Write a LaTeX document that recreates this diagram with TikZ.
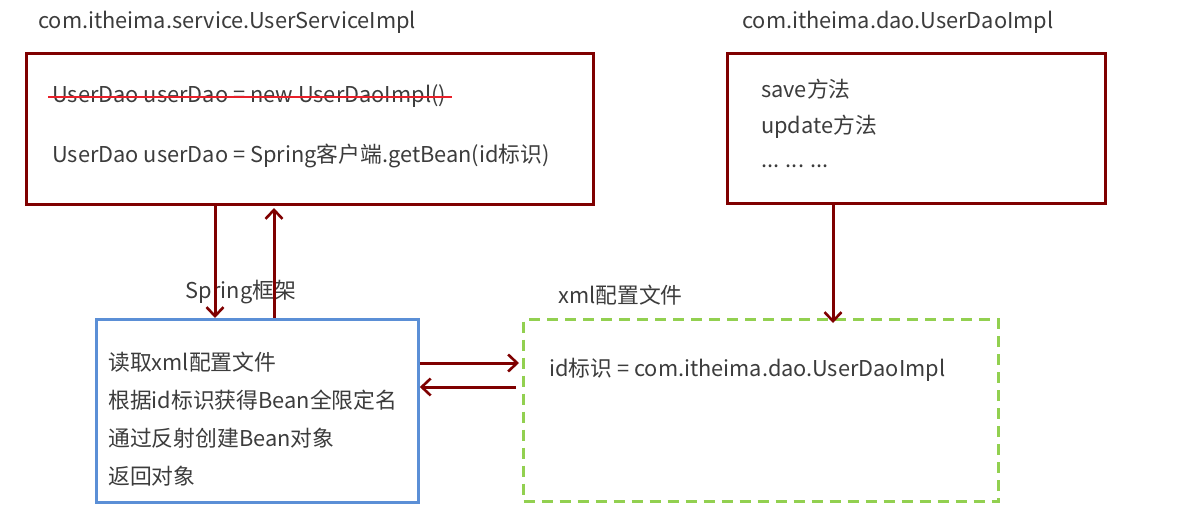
\documentclass[tikz,border=0pt]{standalone}
\usepackage{fontspec}
\setmainfont{Noto Sans CJK SC}
\usetikzlibrary{arrows.meta}
\definecolor{darkred}{HTML}{7F0000}
\definecolor{strike}{HTML}{E8202A}
\definecolor{springblue}{HTML}{5B8FD6}
\definecolor{xmlgreen}{HTML}{92D050}
\definecolor{txt}{HTML}{3C3C3C}
\tikzset{
  box/.style={draw, line width=3pt, inner sep=0pt, anchor=north west},
  clsbox/.style={box, draw=darkred},
  springbox/.style={box, draw=springblue, line width=2.8pt},
  xmlbox/.style={box, draw=xmlgreen, dashed, dash pattern=on 11pt off 7pt},
  line/.style={anchor=west, text=txt, font=\fontsize{21.8}{24}\selectfont, inner sep=2pt},
  link/.style={draw=darkred, line width=3pt, -{Straight Barb[length=9pt,width=17pt,line width=2.6pt]}}
}
\begin{document}
\begin{tikzpicture}[x=1pt,y=-1pt]
    \useasboundingbox (0,0) rectangle (1192,520);

    % client class
    \node[line] (svctitle) at (36,22) {com.itheima.service.UserServiceImpl};
    \node[clsbox, minimum width=567pt, minimum height=151pt] (svc) at (25,52) {};
    \node[line] (oldline) at (50,96) {UserDao userDao = new UserDaoImpl()};
    \node[line] (newline) at (50,156) {UserDao userDao = Spring客户端.getBean(id标识)};
    \draw[strike, line width=2.4pt] ([xshift=-2pt,yshift=-1pt]oldline.west) -- ([xshift=4pt,yshift=-1pt]oldline.east);

    % dao class
    \node[line] (daotitle) at (740,22) {com.itheima.dao.UserDaoImpl};
    \node[clsbox, minimum width=378pt, minimum height=150pt] (dao) at (726,52) {};
    \node[line] (save) at (759,89) {save方法};
    \node[line] (update) at (759,127) {update方法};
    \node[line] (more) at (759,166) {... ... ...};

    % spring
    \node[line, anchor=center] (springtitle) at (241,292) {Spring框架};
    \node[springbox, minimum width=322pt, minimum height=183pt] (spring) at (95,318) {};
    \node[line] (s1) at (106,362) {读取xml配置文件};
    \node[line] (s2) at (106,400) {根据id标识获得Bean全限定名};
    \node[line] (s3) at (106,438) {通过反射创建Bean对象};
    \node[line] (s4) at (106,476) {返回对象};

    % xml
    \node[line] (xmltitle) at (556,295) {xml配置文件};
    \node[xmlbox, minimum width=475pt, minimum height=182pt] (xml) at (522,318) {};
    \node[line] (idline) at (547,370) {id标识 = com.itheima.dao.UserDaoImpl};

    % connectors
    \coordinate (down) at (215,0);
    \coordinate (up) at (274,0);
    \coordinate (daodown) at (833,0);
    \coordinate (ask) at (0,363);
    \coordinate (back) at (0,387);
    \draw[link] (down |- svc.south) -- (down |- spring.north);
    \draw[link] (up |- spring.north) -- ([yshift=-2pt]up |- svc.south);
    \draw[link] (daodown |- dao.south) -- ([yshift=-5pt]daodown |- xml.north);
    \draw[link] (spring.east |- ask) -- ([xshift=-3pt]xml.west |- ask);
    \draw[link] ([xshift=-6pt]xml.west |- back) -- (spring.east |- back);
\end{tikzpicture}
\end{document}
